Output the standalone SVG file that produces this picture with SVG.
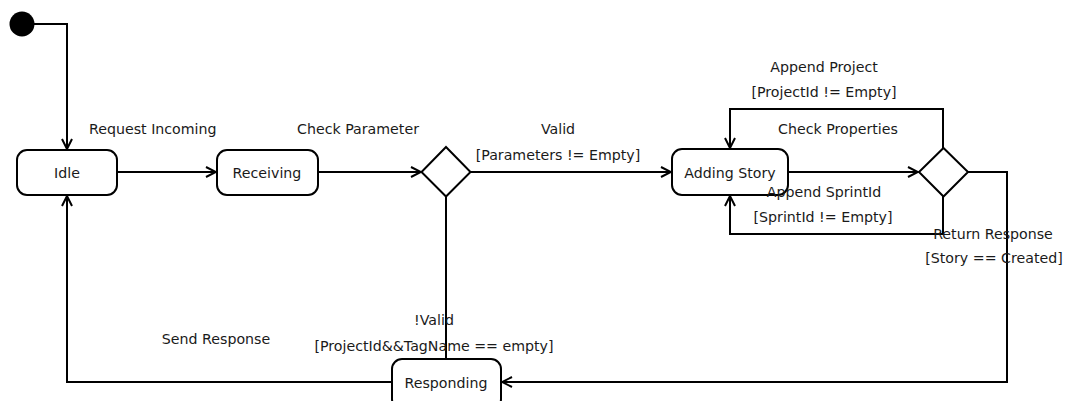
<svg xmlns="http://www.w3.org/2000/svg" width="1066" height="401" viewBox="0 0 1066 401">
<style>
.n{fill:#fff;stroke:#000;stroke-width:2}
.c{fill:none;stroke:#000;stroke-width:2}
.t{font-family:"DejaVu Sans",Verdana,sans-serif;font-size:14.2px;fill:#1a1a1a}
.m{text-anchor:middle}
</style>
<defs>
<marker id="a" viewBox="0 0 12 12" refX="11" refY="6" markerWidth="12" markerHeight="12" markerUnits="userSpaceOnUse" orient="auto">
<path d="M1 1 L11 6 L1 11" fill="none" stroke="#000" stroke-width="2"/>
</marker>
</defs>
<g id="connectors">
<path class="c" d="M34 24 H67 V149" marker-end="url(#a)"/>
<path class="c" d="M117 172 H216" marker-end="url(#a)"/>
<path class="c" d="M318 172 H421" marker-end="url(#a)"/>
<path class="c" d="M470 172 H671" marker-end="url(#a)"/>
<path class="c" d="M788 172 H918" marker-end="url(#a)"/>
<path class="c" d="M943 148 V109 H730 V148" marker-end="url(#a)"/>
<path class="c" d="M943 196 V234 H730 V196" marker-end="url(#a)"/>
<path class="c" d="M968 172 H1007 V382 H502" marker-end="url(#a)"/>
<path class="c" d="M446 196 V359"/>
<path class="c" d="M392 382 H67 V196" marker-end="url(#a)"/>
</g>
<g id="start"><circle cx="22" cy="24" r="12.5" fill="#000"/></g>
<g id="idle"><rect class="n" x="17" y="150" width="100" height="45" rx="10"/><text class="t m" x="67" y="178">Idle</text></g>
<g id="receiving"><rect class="n" x="217" y="150" width="101" height="45" rx="10"/><text class="t m" x="267" y="178">Receiving</text></g>
<g id="decision1"><path class="n" d="M446 147 L470.5 172 L446 196.5 L421.5 172 Z"/></g>
<g id="adding"><rect class="n" x="672" y="149" width="116" height="46" rx="10"/><text class="t m" x="730" y="178">Adding Story</text></g>
<g id="decision2"><path class="n" d="M943.5 148 L968 172 L943.5 196.5 L919 172 Z"/></g>
<g id="responding"><rect class="n" x="392" y="359" width="109" height="50" rx="10"/><text class="t m" x="446" y="388">Responding</text></g>
<g id="labels">
<text class="t" x="89" y="134">Request Incoming</text>
<text class="t" x="297" y="134">Check Parameter</text>
<text class="t m" x="558" y="134">Valid</text>
<text class="t m" x="558" y="160">[Parameters != Empty]</text>
<text class="t m" x="824" y="72">Append Project</text>
<text class="t m" x="824" y="97">[ProjectId != Empty]</text>
<text class="t m" x="838" y="134">Check Properties</text>
<text class="t m" x="824" y="197">Append SprintId</text>
<text class="t m" x="823" y="222">[SprintId != Empty]</text>
<text class="t m" x="993" y="239">Return Response</text>
<text class="t m" x="994" y="263">[Story == Created]</text>
<text class="t m" x="216" y="344">Send Response</text>
<text class="t m" x="434" y="325">!Valid</text>
<text class="t m" x="434" y="351">[ProjectId&amp;&amp;TagName == empty]</text>
</g>
</svg>
